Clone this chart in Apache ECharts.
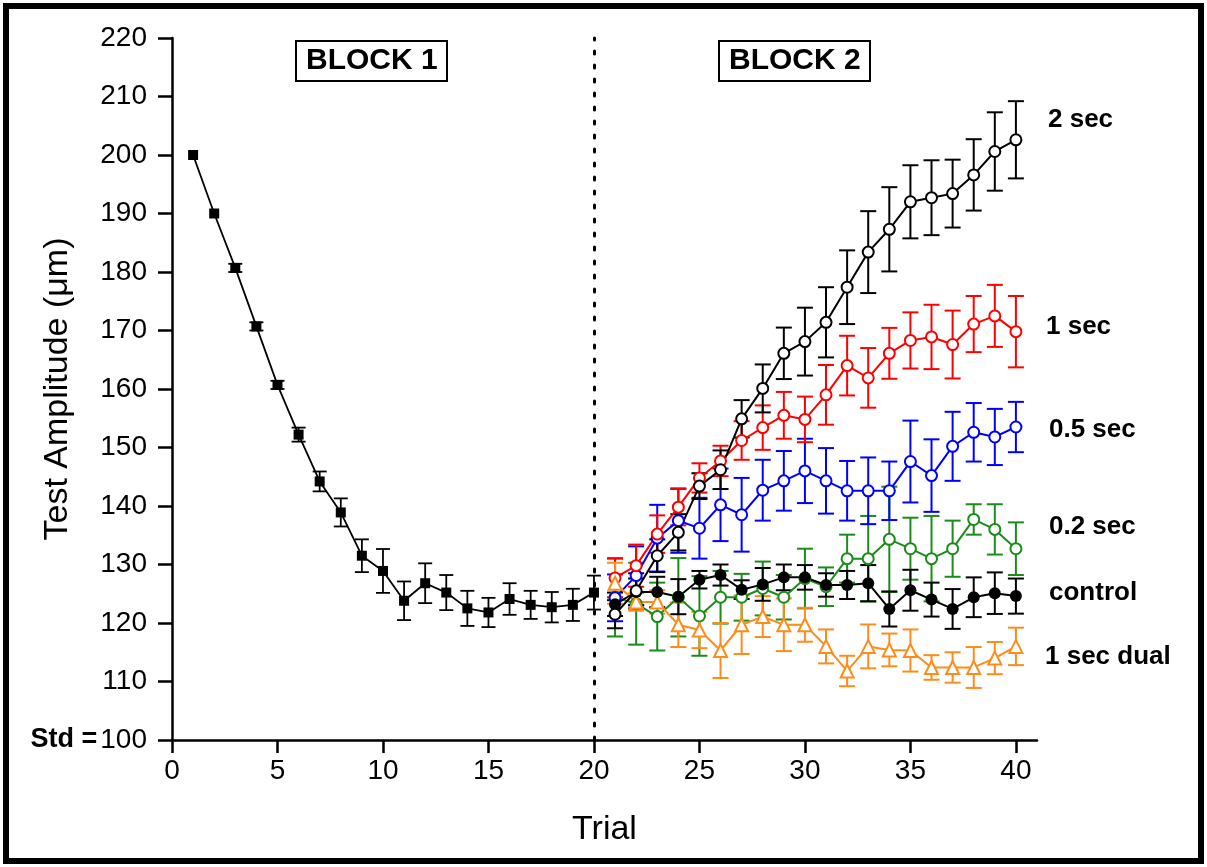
<!DOCTYPE html>
<html lang="en">
<head>
    <meta charset="UTF-8">
    <title>Test Amplitude by Trial</title>
    <script type="text/javascript" src="https://cdn.jsdelivr.net/npm/echarts@6/dist/echarts.min.js"></script>
    <style>
        body{
            padding: 0px;
            margin: 0px;
            background-color: #ffffff;
        }
        #chart{
            width: 1207px;
            height: 867px;
        }
    </style>
</head>
<body>
    <div id="chart"></div>
    <script>
    var FONT = '"Liberation Sans", Arial, sans-serif';

    // block 1 (training)
    var trials1 = [1, 2, 3, 4, 5, 6, 7, 8, 9, 10, 11, 12, 13, 14, 15, 16, 17, 18, 19, 20];
    var block1 = [200.0, 190.0, 180.7, 170.7, 160.7, 152.2, 144.2, 138.9, 131.5, 128.9, 123.8, 126.8, 125.2, 122.5, 121.8, 124.1, 123.1, 122.7, 123.1, 125.2];
    var block1Err = [0, 0, 0.7, 0.7, 0.7, 1.2, 1.7, 2.4, 2.8, 3.75, 3.3, 3.4, 3.0, 3.0, 2.5, 2.7, 2.4, 2.6, 2.75, 2.9];

    // block 2 (test conditions)
    var trials2 = [21, 22, 23, 24, 25, 26, 27, 28, 29, 30, 31, 32, 33, 34, 35, 36, 37, 38, 39, 40];
    var sec2 = [121.5, 125.5, 131.5, 135.5, 143.4, 146.2, 154.9, 160.1, 166.1, 168.1, 171.4, 177.4, 183.4, 187.3, 192.0, 192.7, 193.4, 196.6, 200.6, 202.6];
    var sec2Err = [2.4, 3.0, 2.8, 3.1, 2.2, 3.3, 3.2, 4.1, 4.4, 5.8, 6.0, 6.3, 7.0, 7.2, 6.25, 6.4, 5.8, 6.1, 6.7, 6.6];
    var sec1 = [127.7, 129.8, 135.2, 139.8, 144.8, 147.7, 151.2, 153.4, 155.5, 154.8, 159.0, 164.0, 161.9, 166.1, 168.3, 168.9, 167.6, 171.1, 172.5, 169.8];
    var sec1Err = [3.3, 3.6, 3.2, 3.1, 2.5, 2.6, 3.3, 3.8, 4.0, 3.9, 5.1, 5.1, 5.1, 4.35, 4.8, 5.5, 5.8, 4.8, 5.3, 6.1];
    var sec05 = [124.3, 128.1, 134.5, 137.5, 136.2, 140.2, 138.5, 142.7, 144.3, 146.0, 144.3, 142.6, 142.6, 142.6, 147.6, 145.2, 150.2, 152.6, 151.8, 153.5];
    var sec05Err = [4.0, 5.0, 5.7, 5.5, 5.2, 6.2, 6.3, 5.2, 5.1, 5.5, 5.6, 5.1, 5.7, 5.0, 7.0, 6.2, 5.9, 5.0, 4.8, 4.3];
    var sec02 = [124.4, 123.3, 121.1, 124.4, 121.2, 124.4, 124.4, 125.9, 124.4, 127.6, 126.2, 131.0, 131.0, 134.3, 132.7, 131.0, 132.7, 137.7, 136.0, 132.7];
    var sec02Err = [6.7, 7.0, 5.8, 6.7, 6.8, 4.5, 4.0, 4.6, 3.8, 5.1, 3.3, 4.1, 7.3, 9.0, 5.3, 7.3, 4.8, 2.6, 4.3, 4.5];
    var control = [123.2, 125.3, 125.3, 124.5, 127.4, 128.2, 125.7, 126.6, 127.8, 127.8, 126.5, 126.5, 126.8, 122.4, 125.6, 124.0, 122.4, 124.4, 125.1, 124.6];
    var controlErr = [2.0, 2.3, 2.6, 3.0, 1.5, 1.8, 1.6, 2.8, 2.2, 2.1, 2.0, 2.4, 3.1, 3.0, 3.5, 2.9, 3.4, 3.4, 3.55, 3.0];
    var dual = [126.8, 123.6, 123.6, 119.7, 118.8, 115.3, 119.7, 121.1, 119.7, 119.7, 116.0, 111.8, 116.0, 115.4, 115.3, 112.4, 112.4, 112.4, 114.0, 116.0];
    var dualErr = [3.5, 1.5, 2.0, 3.8, 3.1, 4.7, 5.0, 3.5, 4.5, 2.9, 2.9, 2.6, 3.75, 2.8, 3.6, 2.1, 2.6, 3.5, 2.75, 3.2];

    var xTicks = [0, 5, 10, 15, 20, 25, 30, 35, 40];

    function pairs(xs, ys) {
        return xs.map(function (x, i) { return [x, ys[i]]; });
    }

    // error bars drawn as a custom series
    function errBars(xs, ys, es, color, cap, width) {
        return {
            type: 'custom',
            silent: true,
            z: 3,
            data: xs.map(function (x, i) { return [x, ys[i], es[i]]; }),
            encode: { x: 0, y: 1 },
            renderItem: function (params, api) {
                var x = api.value(0), y = api.value(1), e = api.value(2);
                if (!e) return;
                var top = api.coord([x, y + e]);
                var bot = api.coord([x, y - e]);
                var st = { stroke: color, lineWidth: width };
                return {
                    type: 'group',
                    children: [
                        { type: 'line', shape: { x1: top[0], y1: top[1], x2: bot[0], y2: bot[1] }, style: st },
                        { type: 'line', shape: { x1: top[0] - cap, y1: top[1], x2: top[0] + cap, y2: top[1] }, style: st },
                        { type: 'line', shape: { x1: bot[0] - cap, y1: bot[1], x2: bot[0] + cap, y2: bot[1] }, style: st }
                    ]
                };
            }
        };
    }

    function lineSeries(name, xs, ys, color, symbol, size, filled) {
        return {
            name: name,
            type: 'line',
            z: 4,
            data: pairs(xs, ys),
            symbol: symbol,
            symbolSize: size,
            showAllSymbol: true,
            lineStyle: { color: color, width: 2 },
            itemStyle: filled ? { color: color } : { color: '#fff', borderColor: color, borderWidth: 2 },
            emphasis: { disabled: true },
            animation: false
        };
    }

    var GREEN = '#1a8c1a', ORANGE = '#ff8c1a', RED = '#ff0000', BLUE = '#0000ff';
    var sideFont = 'bold 26px ' + FONT;

    var chart = echarts.init(document.getElementById('chart'), null, {renderer: 'canvas'});
    var option = {
        animation: false,
        backgroundColor: '#fff',
        grid: { left: 172, right: 170, top: 38, bottom: 127, containLabel: false, outerBoundsMode: 'none' },
        title: [
            { text: 'BLOCK 1', left: 296, top: 41, padding: [5, 10], borderColor: '#000', borderWidth: 2,
              textStyle: { fontSize: 30, fontWeight: 'bold', color: '#000', fontFamily: FONT } },
            { text: 'BLOCK 2', left: 719, top: 41, padding: [5, 10], borderColor: '#000', borderWidth: 2,
              textStyle: { fontSize: 30, fontWeight: 'bold', color: '#000', fontFamily: FONT } }
        ],
        xAxis: {
            type: 'value', min: 0, max: 41, interval: 5,
            name: 'Trial', nameLocation: 'middle', nameGap: 73, nameMoveOverlap: false,
            nameTextStyle: { fontSize: 34, color: '#000', fontFamily: FONT },
            axisLine: { lineStyle: { color: '#000', width: 2.5 } },
            axisTick: { length: 13, lineStyle: { color: '#000', width: 2.5 }, customValues: xTicks },
            axisLabel: { fontSize: 28, color: '#000', margin: 17, fontFamily: FONT, customValues: xTicks },
            splitLine: { show: false }
        },
        yAxis: {
            type: 'value', min: 100, max: 220, interval: 10,
            name: 'Test Amplitude (\u03bcm)', nameLocation: 'middle', nameGap: 97, nameMoveOverlap: false,
            nameTextStyle: { fontSize: 34, color: '#000', fontFamily: FONT },
            axisLine: { show: true, lineStyle: { color: '#000', width: 2.5 } },
            axisTick: { show: true, length: 14, lineStyle: { color: '#000', width: 2.5 } },
            axisLabel: {
                fontSize: 28, color: '#000', margin: 25, fontFamily: FONT,
                formatter: function (v) { return v === 100 ? '{s|Std =}' + v : v; },
                rich: { s: { fontSize: 27, fontWeight: 'bold', color: '#000', fontFamily: FONT, padding: [0, 3, 0, 0] } }
            },
            splitLine: { show: false }
        },
        graphic: [
            { type: 'rect', shape: { x: 6, y: 6, width: 1195, height: 855 }, style: { fill: 'none', stroke: '#000', lineWidth: 6 }, z: 100 },
            { type: 'text', x: 1048, y: 120, style: { text: '2 sec', font: sideFont, fill: '#000', verticalAlign: 'middle' } },
            { type: 'text', x: 1046, y: 327, style: { text: '1 sec', font: sideFont, fill: '#000', verticalAlign: 'middle' } },
            { type: 'text', x: 1049, y: 430, style: { text: '0.5 sec', font: sideFont, fill: '#000', verticalAlign: 'middle' } },
            { type: 'text', x: 1049, y: 527, style: { text: '0.2 sec', font: sideFont, fill: '#000', verticalAlign: 'middle' } },
            { type: 'text', x: 1049, y: 593, style: { text: 'control', font: sideFont, fill: '#000', verticalAlign: 'middle' } },
            { type: 'text', x: 1045, y: 657, style: { text: '1 sec dual', font: sideFont, fill: '#000', verticalAlign: 'middle' } }
        ],
        series: [
            errBars(trials1, block1, block1Err, '#000', 7, 1.8),
            errBars(trials2, sec02, sec02Err, GREEN, 8, 2),
            errBars(trials2, sec05, sec05Err, BLUE, 8, 2),
            errBars(trials2, sec1, sec1Err, RED, 8, 2),
            errBars(trials2, dual, dualErr, ORANGE, 8, 2),
            errBars(trials2, control, controlErr, '#000', 8, 2),
            errBars(trials2, sec2, sec2Err, '#000', 8, 2),
            (function () {
                var s = lineSeries('Block 1', trials1, block1, '#000', 'rect', 10, true);
                s.lineStyle.width = 1.8;
                s.markLine = {
                    silent: true, symbol: 'none', label: { show: false },
                    lineStyle: { color: '#000', type: [3, 11], width: 3, cap: 'round' },
                    data: [{ xAxis: 20 }]
                };
                return s;
            })(),
            lineSeries('0.2 sec', trials2, sec02, GREEN, 'circle', 11, false),
            lineSeries('0.5 sec', trials2, sec05, BLUE, 'circle', 11, false),
            lineSeries('1 sec', trials2, sec1, RED, 'circle', 11, false),
            lineSeries('1 sec dual', trials2, dual, ORANGE, 'triangle', 13, false),
            lineSeries('control', trials2, control, '#000', 'circle', 12, true),
            lineSeries('2 sec', trials2, sec2, '#000', 'circle', 11, false)
        ]
    };
    chart.setOption(option);
    </script>
</body>
</html>
